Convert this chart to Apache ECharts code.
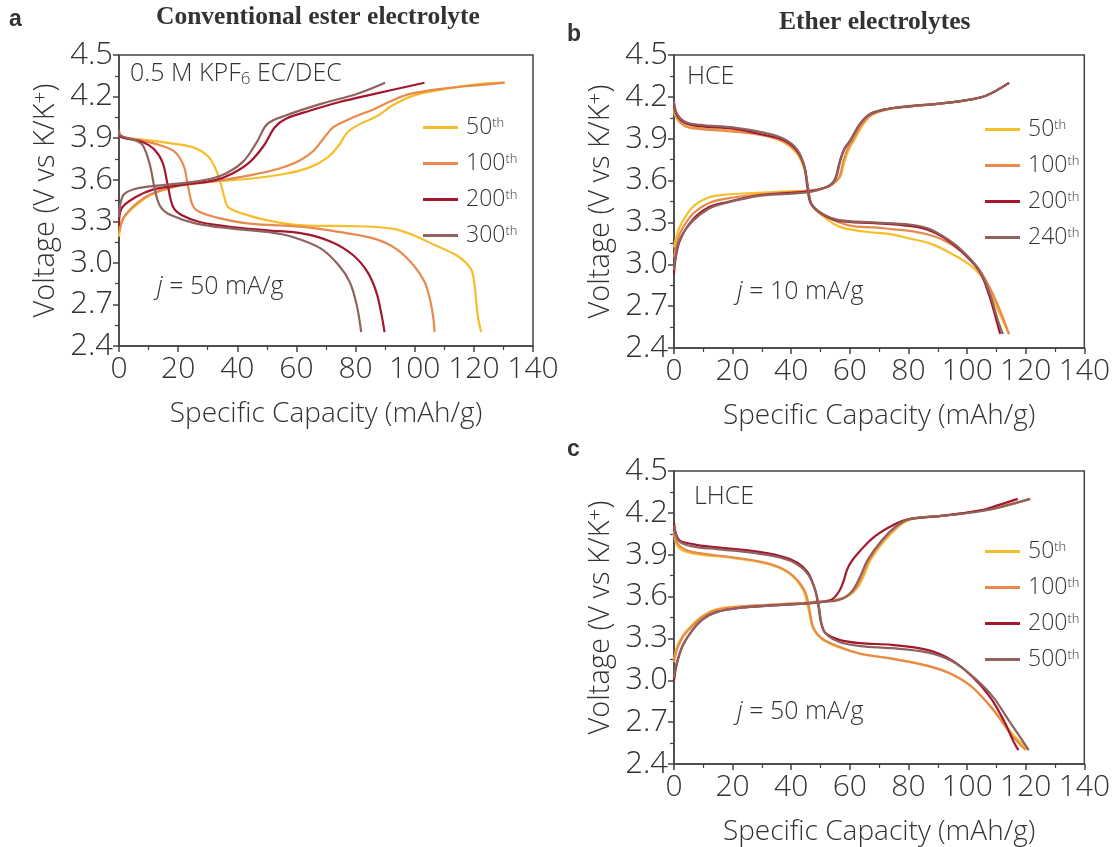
<!DOCTYPE html>
<html><head><meta charset="utf-8">
<script src="https://cdn.jsdelivr.net/npm/echarts@6/dist/echarts.min.js"></script>
<style>html,body{margin:0;padding:0;background:#fff}#c{width:1113px;height:847px}</style>
</head><body><div id="c"></div>
<script>
// ---------- Tick labels / categories ----------
const X_TICKS = [0, 20, 40, 60, 80, 100, 120, 140];
const Y_TICKS = [2.4, 2.7, 3.0, 3.3, 3.6, 3.9, 4.2, 4.5];
const CYCLES_A = ['50th', '100th', '200th', '300th'];
const CYCLES_B = ['50th', '100th', '200th', '240th'];
const CYCLES_C = ['50th', '100th', '200th', '500th'];

// ---------- Panel a: conventional ester electrolyte ([capacity mAh/g, voltage V]) ----------
const A_DIS_50 = [[0,3.95],[0.5,3.91],[8,3.89],[16.5,3.866],[24.9,3.835],[29.8,3.775],[32.2,3.70],[34.3,3.58],[35.8,3.46],[37,3.40],[41.8,3.355],[50.2,3.307],[62.3,3.271],[80.4,3.264],[92.4,3.247],[99.6,3.199],[106.9,3.127],[114.1,3.055],[118.9,2.96],[120.1,2.86],[121.3,2.62],[122.5,2.50]];
const A_CHG_50 = [[0,3.19],[1.4,3.32],[5.7,3.415],[10.5,3.487],[16.5,3.535],[23.7,3.571],[32.2,3.588],[44.2,3.607],[56.3,3.643],[64.7,3.691],[70.7,3.763],[74.3,3.847],[77.3,3.943],[81.6,4.003],[87.6,4.063],[92.4,4.135],[99.6,4.207],[110.5,4.255],[122.5,4.291],[130.4,4.30]];
const A_DIS_100 = [[0,3.93],[0.5,3.91],[6,3.89],[14.1,3.847],[18.9,3.80],[21.9,3.70],[23.1,3.58],[24.9,3.415],[27.3,3.367],[34.6,3.319],[44.2,3.283],[62.3,3.259],[74.3,3.223],[86.3,3.175],[93.6,3.103],[99.6,2.983],[103.3,2.863],[105.1,2.743],[106.3,2.60],[106.7,2.50]];
const A_CHG_100 = [[0,3.22],[2,3.34],[8.1,3.463],[14.1,3.523],[22.5,3.564],[32.2,3.588],[44.2,3.631],[53.9,3.679],[61.1,3.739],[65.9,3.811],[69.5,3.907],[72.5,3.979],[78,4.039],[86.4,4.111],[92.4,4.171],[98.4,4.219],[110.5,4.26],[122.5,4.284],[130.4,4.30]];
const A_DIS_200 = [[0,3.94],[0.5,3.91],[8.1,3.871],[11.7,3.823],[14.7,3.727],[16.5,3.559],[18.3,3.403],[21.3,3.343],[27.3,3.295],[38.2,3.259],[50.2,3.235],[62.3,3.211],[71.9,3.151],[79.2,3.055],[84,2.935],[87,2.791],[88.8,2.623],[89.8,2.50]];
const A_CHG_200 = [[0,3.27],[0.8,3.39],[5.7,3.475],[11.7,3.53],[20.1,3.559],[32.2,3.595],[38.2,3.643],[44.2,3.727],[49,3.847],[52.7,3.979],[56.3,4.039],[64.7,4.099],[74.3,4.159],[86.4,4.219],[103.3,4.30]];
const A_DIS_300 = [[0,3.96],[0.5,3.92],[5.7,3.883],[8.1,3.847],[10.5,3.703],[12.3,3.511],[14.1,3.403],[17.7,3.343],[26.1,3.283],[38.2,3.247],[50.2,3.223],[58.7,3.187],[68.3,3.103],[74.3,2.983],[78,2.863],[80.4,2.695],[81.9,2.50]];
const A_CHG_300 = [[0,3.33],[1.4,3.487],[5.7,3.535],[14.1,3.559],[26.1,3.588],[34.6,3.631],[41.8,3.727],[46.6,3.871],[50.2,4.003],[56.3,4.063],[68.3,4.147],[80.4,4.219],[90,4.30]];

// ---------- Panel b: HCE ----------
const B_DIS_50 = [[0,4.10],[1,4.04],[3.9,3.99],[8.7,3.975],[20.6,3.955],[30.2,3.925],[37.4,3.875],[42.1,3.79],[44.5,3.68],[45.7,3.55],[46.9,3.43],[50.5,3.35],[56.4,3.27],[64.8,3.235],[74.3,3.215],[80.3,3.185],[87.5,3.148],[94.6,3.077],[101.8,2.981],[106.6,2.861],[110.1,2.694],[112.5,2.58],[114.3,2.50]];
const B_CHG_50 = [[0,3.12],[0.5,3.17],[2,3.27],[6.4,3.41],[12,3.48],[17.8,3.50],[26.6,3.51],[38.5,3.522],[46.9,3.53],[51.7,3.55],[54.5,3.58],[56.8,3.63],[58.2,3.74],[59.8,3.83],[61.5,3.89],[64.4,4.00],[67.5,4.07],[73.2,4.11],[80.3,4.13],[89.9,4.15],[99.4,4.175],[106.6,4.21],[114.3,4.30]];
const B_DIS_100 = [[0,4.12],[1,4.05],[3.9,3.99],[8.7,3.97],[20.6,3.95],[30.2,3.925],[37.4,3.88],[42.1,3.80],[44.5,3.69],[45.7,3.55],[46.9,3.43],[50.5,3.36],[56.4,3.30],[62,3.27],[68.4,3.265],[75,3.25],[80.3,3.24],[86.3,3.215],[92.2,3.17],[98.2,3.09],[104.2,2.96],[108.5,2.80],[112,2.63],[114.3,2.50]];
const B_CHG_100 = [[0,3.05],[0.4,3.10],[2,3.22],[6.4,3.36],[12,3.44],[17.8,3.47],[29,3.50],[39,3.515],[46.9,3.53],[51.7,3.55],[54.5,3.58],[56.5,3.63],[57.8,3.74],[59.3,3.83],[61,3.89],[64,4.00],[67.2,4.07],[73.2,4.115],[80.3,4.135],[89.9,4.15],[99.4,4.175],[106.6,4.21],[114.3,4.30]];
const B_DIS_200 = [[0,4.15],[1,4.07],[3.9,4.01],[8.7,3.99],[20.6,3.97],[30.2,3.93],[37.4,3.89],[42.1,3.81],[44.5,3.70],[45.5,3.555],[46.7,3.435],[50.5,3.36],[56.4,3.31],[68.4,3.295],[80.3,3.275],[86.3,3.25],[92.2,3.19],[98.2,3.09],[104.2,2.95],[107.5,2.78],[110,2.60],[111.3,2.50]];
const B_CHG_200 = [[0,2.93],[0.4,3.02],[2,3.17],[6.4,3.32],[12,3.41],[17.8,3.445],[29,3.495],[39,3.51],[46.9,3.525],[51.7,3.55],[54,3.58],[55.3,3.63],[56.6,3.74],[58.2,3.83],[60.2,3.89],[63.6,4.01],[67.2,4.08],[73.2,4.115],[80.3,4.132],[89.9,4.15],[99.4,4.175],[106.6,4.21],[114.3,4.30]];
const B_DIS_240 = [[0,4.17],[1,4.08],[3.9,4.02],[8.7,4.0],[20.6,3.98],[30.2,3.945],[37.4,3.90],[42.1,3.82],[44.5,3.70],[45.7,3.555],[46.9,3.435],[50.5,3.364],[56.4,3.316],[68.4,3.30],[80.3,3.285],[86.3,3.26],[92.2,3.196],[98.2,3.10],[104.2,2.957],[107.8,2.789],[110.5,2.60],[112.2,2.50]];
const B_CHG_240 = [[0,2.96],[0.4,3.04],[2,3.18],[6.4,3.31],[12,3.40],[17.8,3.44],[29,3.49],[39,3.505],[46.9,3.52],[51.7,3.55],[54,3.58],[55.3,3.62],[56.5,3.72],[58,3.82],[60,3.88],[63.6,4.01],[67.2,4.08],[73.2,4.115],[80.3,4.132],[89.9,4.15],[99.4,4.175],[106.6,4.21],[114.3,4.30]];

// ---------- Panel c: LHCE ----------
const C_DIS_50 = [[0,4.05],[1.6,3.95],[6.3,3.91],[20.6,3.875],[32.6,3.83],[39.7,3.76],[44.2,3.64],[46,3.50],[47.3,3.38],[50.5,3.295],[56.4,3.235],[63.6,3.19],[74.3,3.155],[86.3,3.105],[94.6,3.045],[101.8,2.95],[109,2.79],[115.5,2.616],[119.5,2.53],[121,2.50]];
const C_CHG_50 = [[0,3.15],[1,3.24],[3,3.32],[6.3,3.40],[10,3.465],[14.7,3.51],[23,3.53],[32.6,3.54],[44.5,3.555],[50,3.565],[56,3.58],[59.8,3.61],[62.5,3.66],[64.8,3.75],[67,3.86],[71.8,4.0],[76.5,4.10],[80.3,4.15],[92.2,4.18],[104.2,4.215],[112,4.245],[121.5,4.30]];
const C_DIS_100 = [[0,4.07],[1.6,3.97],[6.3,3.92],[20.6,3.88],[32.6,3.835],[39.7,3.765],[44.5,3.645],[46.3,3.50],[47.5,3.38],[50.5,3.30],[56.4,3.24],[63.6,3.19],[74.3,3.155],[86.3,3.105],[94.6,3.045],[101.8,2.95],[109,2.785],[114.9,2.616],[118.5,2.53],[120,2.50]];
const C_CHG_100 = [[0,3.13],[1,3.22],[3,3.31],[6.3,3.39],[10,3.46],[14.7,3.505],[23,3.53],[32.6,3.54],[44.5,3.555],[50,3.565],[56,3.58],[59.5,3.61],[62,3.66],[64.2,3.75],[66.5,3.86],[71.2,4.0],[76,4.10],[80.3,4.155],[92.2,4.18],[104.2,4.215],[112,4.245],[121.5,4.30]];
const C_DIS_200 = [[0,4.13],[1.6,4.01],[6.3,3.976],[14.7,3.952],[26.6,3.927],[36.2,3.891],[42.1,3.843],[45.7,3.771],[48.1,3.651],[49.3,3.531],[50.2,3.41],[51.7,3.338],[56.4,3.29],[63.6,3.266],[74.3,3.254],[86.3,3.218],[94.6,3.146],[101.8,3.025],[107.8,2.881],[112.5,2.713],[116.1,2.55],[117.5,2.50]];
const C_CHG_200 = [[0,3.00],[1,3.12],[3,3.25],[6.3,3.36],[10,3.44],[14.7,3.49],[23,3.52],[32.6,3.535],[44.5,3.55],[50,3.56],[53.9,3.58],[56.4,3.64],[58,3.72],[59,3.79],[60.5,3.85],[63.6,3.93],[68.4,4.03],[75.5,4.12],[80.3,4.155],[92.2,4.18],[104.2,4.216],[110.1,4.252],[117.3,4.30]];
const C_DIS_500 = [[0,4.11],[1.6,4.0],[6.3,3.96],[14.7,3.94],[26.6,3.915],[36.2,3.88],[42.1,3.83],[45.7,3.76],[48.3,3.64],[49.5,3.52],[50.4,3.40],[52,3.33],[56.4,3.275],[63.6,3.245],[74.3,3.23],[86.3,3.20],[94.6,3.14],[101.8,3.03],[108.5,2.89],[114,2.72],[118.5,2.58],[121,2.50]];
const C_CHG_500 = [[0,3.02],[1,3.13],[3,3.25],[6.3,3.36],[10,3.44],[14.7,3.49],[23,3.52],[32.6,3.535],[44.5,3.55],[50,3.56],[56,3.575],[58.8,3.60],[61.2,3.651],[63.6,3.747],[66,3.86],[70.8,4.0],[75.5,4.10],[80.3,4.155],[92.2,4.18],[104.2,4.21],[112,4.245],[121.5,4.30]];

// ---------- Styling ----------
const FONT = "'Open Sans', 'Noto Sans', 'DejaVu Sans', sans-serif";
const SERIF = "'Liberation Serif', 'DejaVu Serif', serif";
const TXT = '#333333';
const AXC = '#444444';
const COLORS = ['#F5BE2B', '#E8894E', '#A3172F', '#8F625D'];

const PANELS = [
  { names: CYCLES_A, curves: [[A_DIS_50, A_CHG_50], [A_DIS_100, A_CHG_100], [A_DIS_200, A_CHG_200], [A_DIS_300, A_CHG_300]],
    grid: { left: 119, top: 55, width: 414, height: 291 }, legend: { left: 418, top: 111 } },
  { names: CYCLES_B, curves: [[B_DIS_50, B_CHG_50], [B_DIS_100, B_CHG_100], [B_DIS_200, B_CHG_200], [B_DIS_240, B_CHG_240]],
    grid: { left: 674, top: 55, width: 416, height: 293 }, legend: { left: 980, top: 113 } },
  { names: CYCLES_C, curves: [[C_DIS_50, C_CHG_50], [C_DIS_100, C_CHG_100], [C_DIS_200, C_CHG_200], [C_DIS_500, C_CHG_500]],
    grid: { left: 674, top: 471, width: 416, height: 293 }, legend: { left: 980, top: 535 } }
];

const grids = [], xAxes = [], yAxes = [], series = [], legends = [];
PANELS.forEach((p, gi) => {
  grids.push(Object.assign({ show: true, borderColor: AXC, borderWidth: 1.5, backgroundColor: 'transparent' }, p.grid));
  xAxes.push({
    gridIndex: gi, type: 'value', min: X_TICKS[0], max: X_TICKS[X_TICKS.length - 1], interval: X_TICKS[1] - X_TICKS[0],
    axisLine: { show: true, onZero: false, lineStyle: { color: AXC, width: 1.5 } },
    axisTick: { show: true, length: 6, lineStyle: { color: AXC, width: 1.5 } },
    minorTick: { show: true, splitNumber: 2, length: 4, lineStyle: { color: AXC, width: 1.2 } },
    splitLine: { show: false },
    axisLabel: { fontSize: 30, fontWeight: 300, color: TXT, fontFamily: FONT, margin: 8 },
    name: 'Specific Capacity (mAh/g)', nameLocation: 'middle', nameGap: 54,
    nameTextStyle: { fontSize: 28, fontWeight: 300, color: TXT, fontFamily: FONT }
  });
  yAxes.push({
    gridIndex: gi, type: 'value', min: Y_TICKS[0], max: Y_TICKS[Y_TICKS.length - 1], interval: 0.3,
    axisLine: { show: true, onZero: false, lineStyle: { color: AXC, width: 1.5 } },
    axisTick: { show: true, length: 6, lineStyle: { color: AXC, width: 1.5 } },
    minorTick: { show: true, splitNumber: 2, length: 4, lineStyle: { color: AXC, width: 1.2 } },
    splitLine: { show: false },
    axisLabel: { fontSize: 31, fontWeight: 300, color: TXT, fontFamily: FONT, margin: 6, formatter: v => v.toFixed(1) },
    name: '{a|Voltage (V vs K/K}{s|+}{a|)}', nameLocation: 'middle', nameGap: 58, nameRotate: 90,
    nameTextStyle: { color: TXT, fontFamily: FONT, rich: {
      a: { fontSize: 29, fontWeight: 300, color: TXT, fontFamily: FONT, lineHeight: 30 },
      s: { fontSize: 21, fontWeight: 300, color: TXT, fontFamily: FONT, verticalAlign: 'top', lineHeight: 30 } } }
  });
  p.curves.forEach((pair, ci) => {
    pair.forEach(data => {
      series.push({
        type: 'line', name: p.names[ci], xAxisIndex: gi, yAxisIndex: gi, data: data,
        showSymbol: false, symbol: 'none', smooth: 0.35, clip: true,
        lineStyle: { width: 2.2, color: COLORS[ci] }, itemStyle: { color: COLORS[ci] }
      });
    });
  });
  legends.push({
    data: p.names, orient: 'vertical', left: p.legend.left, top: p.legend.top,
    icon: 'rect', itemWidth: 35, itemHeight: 3, itemGap: 13, selectedMode: false,
    formatter: n => '{n|' + n.replace('th', '') + '}{s|th}',
    textStyle: { color: TXT, fontFamily: FONT, rich: {
      n: { fontSize: 23, fontWeight: 300, color: TXT, fontFamily: FONT, lineHeight: 22, padding: [0, 0, 0, 3] },
      s: { fontSize: 13, fontWeight: 300, color: TXT, fontFamily: FONT, verticalAlign: 'top', lineHeight: 14 } } }
  });
});

function txt(x, y, text, rich) {
  return { type: 'text', left: x, top: y, style: { text: text, rich: rich, fill: TXT, font: '22px ' + FONT } };
}
const annRich = {
  t: { fontSize: 25, fontWeight: 300, fontFamily: FONT, color: TXT, lineHeight: 28 },
  i: { fontSize: 25, fontWeight: 300, fontFamily: FONT, fontStyle: 'italic', color: TXT, lineHeight: 28 },
  b: { fontSize: 17, fontWeight: 300, fontFamily: FONT, color: TXT, verticalAlign: 'bottom', lineHeight: 17 }
};
const letterRich = { p: { fontSize: 23, fontFamily: "'Liberation Sans', Arial, sans-serif", fontWeight: 'bold', color: '#1a1a1a' } };
const titleRich = { h: { fontSize: 25.5, fontFamily: SERIF, fontWeight: 'bold', color: '#111' } };
const graphics = [
  txt(9, 8, '{p|a}', letterRich),
  txt(567, 23, '{p|b}', letterRich),
  txt(567, 438, '{p|c}', letterRich),
  txt(156, 4, '{h|Conventional ester electrolyte}', titleRich),
  txt(779, 9, '{h|Ether electrolytes}', titleRich),
  txt(130, 61, '{t|0.5 M KPF}{b|6}{t| EC/DEC}', annRich),
  txt(157, 274, '{i|j}{t| = 50 mA/g}', annRich),
  txt(687, 64, '{t|HCE}', annRich),
  txt(737, 279, '{i|j}{t| = 10 mA/g}', annRich),
  txt(694, 484, '{t|LHCE}', annRich),
  txt(737, 699, '{i|j}{t| = 50 mA/g}', annRich)
];

const chart = echarts.init(document.getElementById('c'), null, { renderer: 'canvas' });
chart.setOption({
  backgroundColor: '#ffffff', animation: false,
  grid: grids, xAxis: xAxes, yAxis: yAxes, series: series, legend: legends, graphic: graphics
});
</script></body></html>
